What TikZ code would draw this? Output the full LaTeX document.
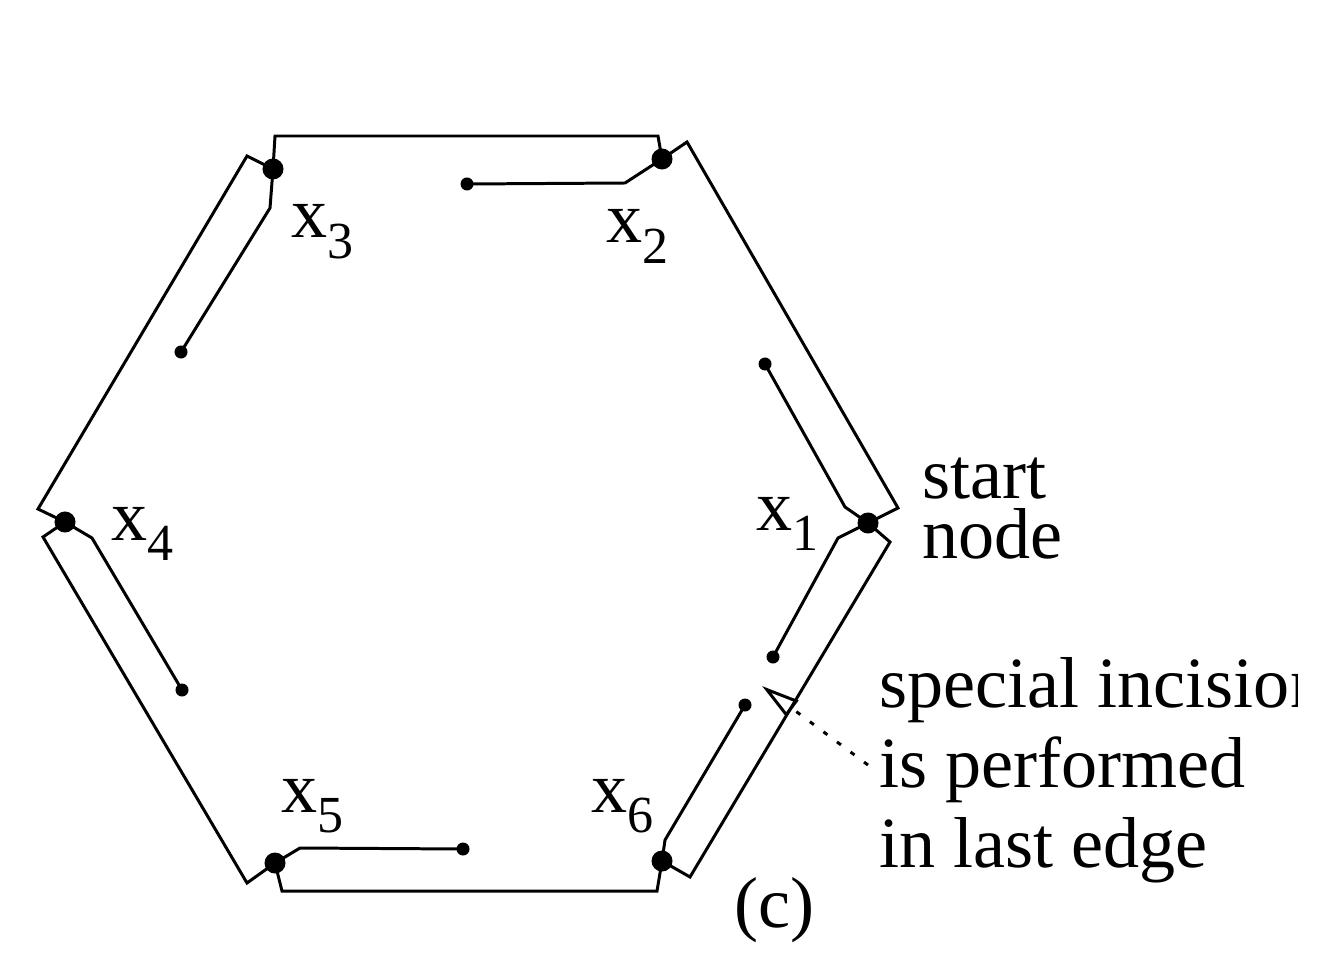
\documentclass[tikz,border=0pt]{standalone}
\usepackage{fontspec}
\setmainfont{Liberation Serif}
\usetikzlibrary{arrows.meta}
\tikzset{
  bigdot/.style={circle, fill=black, inner sep=0pt, minimum size=0.21cm},
  smalldot/.style={circle, fill=black, inner sep=0pt, minimum size=0.13cm},
  lbl/.style={anchor=base west, inner sep=0pt, font=\fontsize{20.5}{24}\selectfont},
}
\newcommand{\xsub}[1]{x\raisebox{-0.28em}{\fontsize{14.8}{16}\selectfont #1}}
\begin{document}
\begin{tikzpicture}[x=0.01cm, y=-0.01cm, line width=0.85pt]
		\useasboundingbox (0,0) rectangle (1328,967);
		\clip (0,0) rectangle (1297,967);
		
		\node[bigdot] (v1) at (868,523) {};
		\node[bigdot] (v2) at (662,159) {};
		\node[bigdot] (v3) at (273,169) {};
		\node[bigdot] (v4) at (65,522) {};
		\node[bigdot] (v5) at (275,863) {};
		\node[bigdot] (v6) at (662,861) {};
		
		\node[smalldot] (s1a) at (765,364) {};
		\node[smalldot] (s1b) at (773,657) {};
		\node[smalldot] (s2) at (467,184) {};
		\node[smalldot] (s3) at (181,352) {};
		\node[smalldot] (s4) at (182,690) {};
		\node[smalldot] (s5) at (463,849) {};
		\node[smalldot] (s6) at (745,705) {};
		
		\draw (v3.center) -- (275,136) -- (658,136) -- (v2.center) -- (687,142) -- (898,508) -- (v1.center)
			-- (890,542) -- (690,877) -- (v6.center) -- (657,891) -- (282,891) -- (v5.center)
			-- (247,883) -- (43,537) -- (v4.center) -- (38,509) -- (247,156) -- cycle;
		
		\draw (v1.center) -- (845,507) -- (s1a.center);
		\draw (v1.center) -- (838,538) -- (s1b.center);
		\draw (v2.center) -- (625,183) -- (s2.center);
		\draw (v3.center) -- (270,208) -- (s3.center);
		\draw (v4.center) -- (92,538) -- (s4.center);
		\draw (v5.center) -- (300,848) -- (s5.center);
		\draw (v6.center) -- (665,840) -- (s6.center);
		
		\coordinate (tail) at (868,765);
		\coordinate (cut) at (762,686);
		\draw[dash pattern=on 1.4pt off 3.4pt, -{Triangle[open, length=0.38cm, width=0.2cm]}] (tail) -- (cut);
		
		\node[lbl] (l1) at (755,530) {\xsub{1}};
		\node[lbl] (l2) at (605,243) {\xsub{2}};
		\node[lbl] (l3) at (290,238) {\xsub{3}};
		\node[lbl] (l4) at (110,540) {\xsub{4}};
		\node[lbl] (l5) at (280,812) {\xsub{5}};
		\node[lbl] (l6) at (590,812) {\xsub{6}};
		
		\node[lbl] (start) at (921,498) {\vtop{\baselineskip=0.6cm \hbox{start}\hbox{node}}};
		\node[lbl] (note1) at (878,707) {special incision};
		\node[lbl] (note2) at (878,787) {is performed};
		\node[lbl] (note3) at (878,867) {in last edge};
		\node[lbl] (cap) at (733,927) {(c)};
	\end{tikzpicture}
\end{document}
